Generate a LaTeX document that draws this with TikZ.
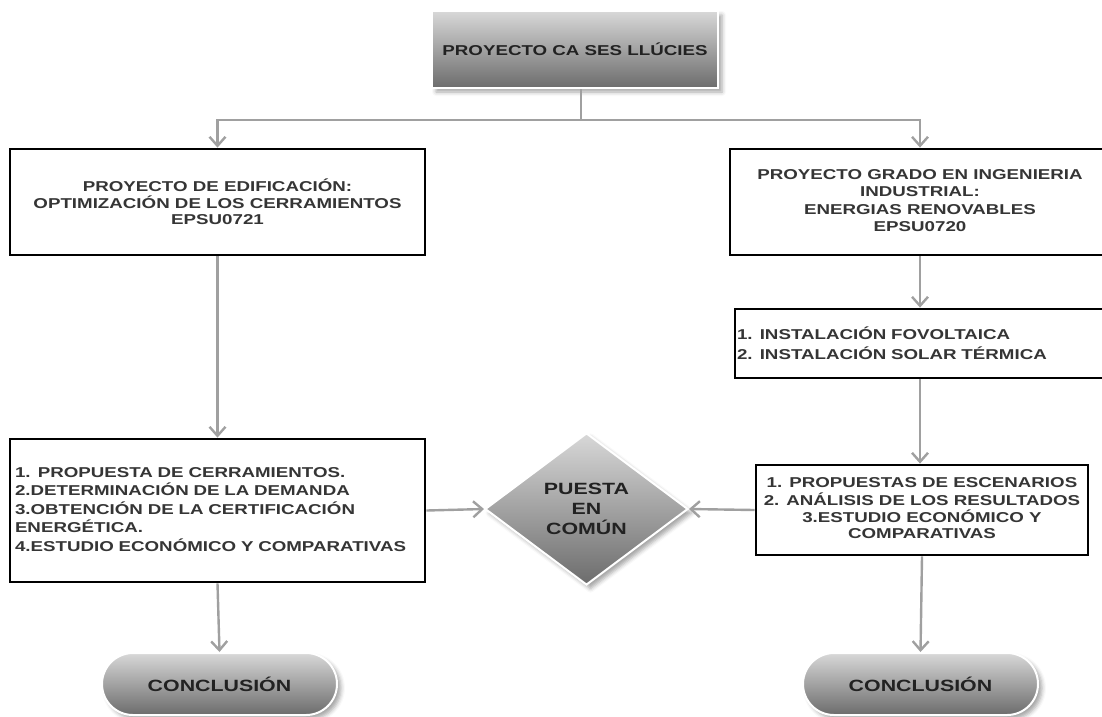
\documentclass[tikz,border=0pt]{standalone}
\usepackage{fontspec}
\setmainfont{Liberation Sans}[FakeStretch=1.31]
\usetikzlibrary{arrows.meta,shapes.geometric,shadows.blur}
\definecolor{txt}{HTML}{353535}
\definecolor{dtxt}{HTML}{222222}
\definecolor{conn}{HTML}{A0A0A0}
\definecolor{gtop}{HTML}{D8D8D8}
\definecolor{gbot}{HTML}{6C6C6C}
\begin{document}
\begin{tikzpicture}[x=1pt,y=-1pt,
  box/.style={draw=black,line width=2.8pt,fill=white,inner sep=0pt,text=txt,
    font=\bfseries\fontsize{14.3}{17}\selectfont,align=center},
  grad/.style={draw=white,line width=2pt,top color=gtop,bottom color=gbot,
    inner sep=0pt,text=dtxt,align=center,
    blur shadow={shadow xshift=4pt,shadow yshift=-4pt,shadow blur radius=4pt,shadow opacity=35}},
  pill/.style={grad,rounded corners=31pt,minimum width=235pt,minimum height=62pt,
    font=\bfseries\fontsize{16.3}{19}\selectfont},
  link/.style={draw=conn,line width=2.4pt,-{Straight Barb[length=9pt,width=16pt]}},
]
\useasboundingbox (0,0) rectangle (1102,716);
\clip (0,0) rectangle (1102,716);

% top
\node[grad,minimum width=286pt,minimum height=77pt,
  font=\bfseries\fontsize{14.3}{17}\selectfont] (top) at (575,49.5) {PROYECTO CA SES LLÚCIES};

% left column
\node[box,minimum width=415pt,minimum height=106pt,
  font=\bfseries\fontsize{14.3}{16.5}\selectfont] (lb1) at (217.5,202)
  {PROYECTO DE EDIFICACIÓN:\\OPTIMIZACIÓN DE LOS CERRAMIENTOS\\EPSU0721};
\node[box,minimum width=415pt,minimum height=143pt,text width=405pt,align=left,
  font=\bfseries\fontsize{14.3}{18.5}\selectfont] (lb3) at (217.5,510.5)
  {\raisebox{-3pt}{\begin{tabular}{@{}l@{}}1. PROPUESTA DE CERRAMIENTOS.\\2.DETERMINACIÓN DE LA DEMANDA\\3.OBTENCIÓN DE LA CERTIFICACIÓN\\ENERGÉTICA.\\4.ESTUDIO ECONÓMICO Y COMPARATIVAS\end{tabular}}};

% right column
\node[box,minimum width=380pt,minimum height=106pt,
  font=\bfseries\fontsize{14.3}{17.5}\selectfont] (rb1) at (920,202)
  {\raisebox{-2pt}{\begin{tabular}{@{}c@{}}PROYECTO GRADO EN INGENIERIA\\INDUSTRIAL:\\ENERGIAS RENOVABLES\\EPSU0720\end{tabular}}};
\node[box,minimum width=370pt,minimum height=69pt,text width=366pt,align=left,
  font=\bfseries\fontsize{14.3}{20}\selectfont] (rb2) at (920,343.5)
  {1. INSTALACIÓN FOVOLTAICA\\2. INSTALACIÓN SOLAR TÉRMICA};
\node[box,minimum width=332pt,minimum height=90pt,
  font=\bfseries\fontsize{14.3}{16}\selectfont] (rb3) at (922,510)
  {\raisebox{9pt}{\begin{tabular}{@{}c@{}}1. PROPUESTAS DE ESCENARIOS\\2. ANÁLISIS DE LOS RESULTADOS\\3.ESTUDIO ECONÓMICO Y\\COMPARATIVAS\end{tabular}}};

% diamond
\node[grad,diamond,aspect=1.336,minimum width=203pt,minimum height=152pt,
  font=\bfseries\fontsize{16.3}{20}\selectfont] (dia) at (586.5,509)
  {PUESTA\\EN\\COMÚN};

% conclusions
\node[pill] (c1) at (219.5,684) {CONCLUSIÓN};
\node[pill] (c2) at (920.5,684) {CONCLUSIÓN};

% connectors
\draw[link] ([xshift=6pt]top.south) -- ++(0,31) -| (lb1.north);
\draw[link] ([xshift=6pt]top.south) -- ++(0,31) -| (rb1.north);
\draw[link] (lb1.south) -- (lb3.north);
\draw[link] (rb1.south) -- (rb2.north);
\draw[link] (rb2.south) -- (rb2.south |- rb3.north);
\draw[link] (lb3.east) -- (dia.west);
\draw[link] (rb3.west) -- (dia.east);
\draw[link] (lb3.south) -- (c1.north);
\draw[link] (rb3.south) -- (c2.north);
\end{tikzpicture}
\end{document}
